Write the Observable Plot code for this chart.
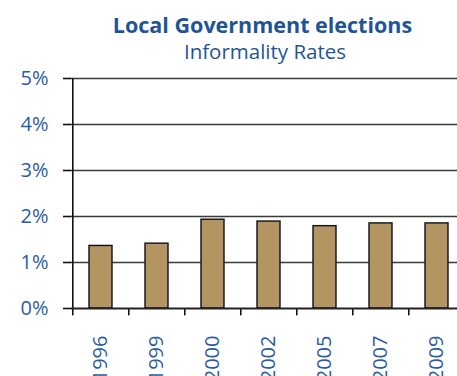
<!DOCTYPE html>
<html>
<head>
<meta charset="utf-8">
<script src="https://cdn.jsdelivr.net/npm/d3@7"></script>
<script src="https://cdn.jsdelivr.net/npm/@observablehq/plot@0.6"></script>
<style>
  body { margin: 0; background: #fff; width: 457px; height: 376px; overflow: hidden; font-family: "Open Sans", sans-serif; }
  #head { height: 70px; position: relative; color: #1f5596; }
  #t1 { position: absolute; left: 0; width: 525px; top: 14px; text-align: center; font-weight: bold; font-size: 21.5px; line-height: 22px; }
  #t2 { position: absolute; left: 0; width: 530px; top: 40px; text-align: center; font-size: 20.5px; line-height: 22px; }
  svg { display: block; }
</style>
</head>
<body>
<div id="head"><div id="t1">Local Government elections</div><div id="t2">Informality Rates</div></div>
<div id="chart"></div>
<script>
const years = ["1996", "1999", "2000", "2002", "2005", "2007", "2009"];
const rates = [1.36, 1.41, 1.93, 1.89, 1.79, 1.85, 1.85];
const yTicks = [0, 1, 2, 3, 4, 5];
const gridLines = [1, 2, 3, 4, 5];

const data = years.map((y, i) => ({year: y, rate: rates[i]}));
const blue = "#2a5d9f";
const W = 457, H = 306, mL = 71, mR = -9, mT = 8, mB = 68;
const step = (W - mR - mL) / years.length;

const chart = Plot.plot({
  width: W, height: H,
  marginLeft: mL, marginRight: mR, marginTop: mT, marginBottom: mB,
  style: {fontFamily: "'Open Sans', sans-serif", overflow: "visible", background: "transparent"},
  x: {domain: years, paddingInner: 0.59, paddingOuter: 0.295, label: null},
  y: {domain: [0, 5], label: null},
  marks: [
    Plot.ruleY(gridLines, {stroke: "#3a3a3a", strokeWidth: 1.6}),
    Plot.barY(data, {x: "year", y: "rate", fill: "#b39563", stroke: "#111", strokeWidth: 1.4}),
    Plot.ruleX(years, {x: d => d, y1: -0.16, y2: d => d === years[0] ? 5 : 0, dx: -step / 2, stroke: "#111", strokeWidth: 1.6}),
    Plot.ruleY([0], {stroke: "#222", strokeWidth: 1.8}),
    Plot.axisY(yTicks, {tickFormat: d => d + "%", tickSize: 8, tickPadding: 15, fontSize: 20, fill: blue, stroke: "#111", strokeWidth: 1.6, label: null}),
    Plot.axisX({tickSize: 0, tickRotate: -90, tickPadding: 27, fontSize: 20, fill: blue, label: null})
  ]
});
document.getElementById("chart").appendChild(chart);
</script>
</body>
</html>
